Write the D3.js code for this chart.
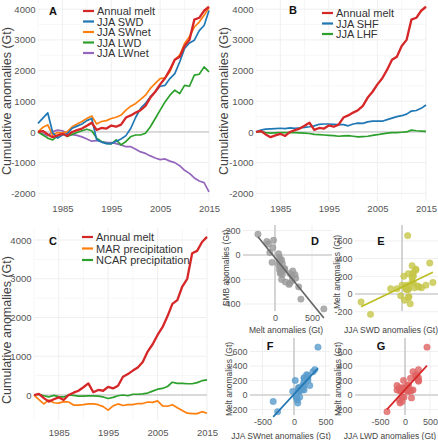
<!DOCTYPE html>
<html><head><meta charset="utf-8">
<script src="https://cdn.jsdelivr.net/npm/d3@7"></script>
<style>body{margin:0;background:#fff;} svg{display:block;font-family:"Liberation Sans",Arial,sans-serif;}</style>
</head><body><svg id="c" width="438" height="440"></svg>
<script>
// ---------------- DATA ----------------
const years = [1980,1981,1982,1983,1984,1985,1986,1987,1988,1989,1990,1991,1992,1993,1994,1995,1996,1997,1998,1999,2000,2001,2002,2003,2004,2005,2006,2007,2008,2009,2010,2011,2012,2013,2014,2015];
const xTickYears = [1985,1995,2005,2015];
const yTicksAB = [-2000,-1000,0,1000,2000,3000,4000];
const yTicksC = [0,1000,2000,3000,4000];

// cumulative anomalies (Gt)
const annualMelt = [0,30,-80,-170,-110,-60,-130,0,60,110,200,300,70,130,110,210,170,240,470,540,630,710,850,1120,1310,1550,1750,2030,2350,2450,2800,3000,3660,3720,3950,4080];
const jjaSWD   = [280,450,620,-20,-200,-100,-60,120,190,260,370,440,-250,-330,-380,-380,-300,-230,-120,120,480,770,930,1150,1310,1490,1520,1740,1900,2280,2720,2900,2990,3300,3470,3960];
const jjaSWnet = [0,150,230,-100,-20,-40,10,170,260,340,440,520,260,340,370,440,480,550,710,840,930,1060,1200,1420,1580,1740,1760,1960,2360,2500,2880,3100,3420,3580,3800,4050];
const jjaLWD   = [0,-100,-200,-260,-130,-40,-150,-80,-20,40,90,40,-200,-310,-370,-390,-260,-420,-310,-150,-100,-100,-40,170,440,710,980,1200,1360,1250,1520,1490,1850,1880,2120,1960];
const jjaLWnet = [0,-60,-120,10,60,40,-60,-90,-110,-160,-230,-300,-280,-320,-340,-350,-380,-420,-480,-480,-560,-650,-700,-780,-850,-900,-880,-950,-1000,-1100,-1250,-1350,-1500,-1600,-1650,-1950];
const jjaSHF   = [0,60,90,100,110,120,110,130,120,130,150,170,200,250,260,260,250,240,240,200,260,290,280,330,350,350,350,400,450,500,530,580,680,700,770,880];
const jjaLHF   = [0,15,-20,-40,-30,-20,-20,-20,-20,-30,-40,-50,-80,-90,-100,-110,-120,-140,-130,-120,-140,-160,-150,-140,-110,-90,-60,-40,-20,-20,-10,0,60,40,30,20];
const marPrecip  = [0,-120,-230,-130,-200,-210,-170,-180,-260,-260,-250,-230,-230,-250,-300,-390,-280,-230,-270,-250,-250,-220,-220,-180,-190,-150,-280,-290,-250,-330,-400,-470,-480,-480,-430,-470];
const ncarPrecip = [0,20,-20,-50,-10,-40,-50,0,-10,-30,-30,-20,-20,-30,-50,-90,-60,-20,0,-20,20,20,30,50,100,150,170,220,330,300,300,290,290,320,370,390];

// yearly anomalies (Gt) for scatter panels
const meltAnom  = [-30,60,-110,-90,60,50,-70,130,60,50,90,100,-230,60,-20,100,-40,70,230,70,90,80,140,270,190,240,200,280,320,100,350,200,660,70,230,130];
const smbAnom   = [60,-60,110,90,-20,-80,20,-110,-50,10,-40,-130,170,-120,120,-70,-60,-150,-170,-100,-200,-140,-220,-160,-240,-130,-230,-190,-260,-160,-360,-150,-440,-40,-210,-120];
const swdAnom   = [110,100,130,-650,-180,100,40,180,70,70,110,70,-500,-80,-20,0,100,50,100,200,250,270,160,220,160,180,30,220,160,380,440,180,90,310,170,490];
const swnetAnom = [90,80,60,-330,80,-20,50,160,90,80,100,80,-260,80,30,70,40,70,160,130,90,130,140,220,160,160,20,200,300,140,330,220,380,160,220,250];
const lwdAnom   = [-20,-80,-100,-60,130,90,-110,70,60,60,50,-50,-360,-110,-60,-20,130,-160,110,160,50,0,60,210,270,270,270,220,160,-110,270,-30,440,30,240,-160];

// ---------------- DRAW ----------------
const svg = d3.select("#c");
const COL = {melt:"#d62728", blue:"#1f77b4", orange:"#ff7f0e", green:"#2ca02c", purple:"#9467bd", olive:"#bcbd22"};
const GRID = "#efefef", GRIDMINOR = "#f7f7f7", ZERO = "#bdbdbd", TICKTXT = "#555", TITLETXT = "#444";
const fmt = d => String(d);

function linePanel(cfg) {
  const g = svg.append("g");
  const x = d3.scaleLinear().domain([1980, 2015]).range(cfg.xr);
  const y = d3.scaleLinear().domain(cfg.yd).range(cfg.yr);
  const [x0, x1] = cfg.xr, [yb, yt] = cfg.yr;
  [1980,1990,2000,2010].forEach(v => g.append("line").attr("x1", x(v)).attr("x2", x(v)).attr("y1", yt).attr("y2", yb).attr("stroke", GRIDMINOR));
  cfg.yTicks.slice(0, -1).forEach((v, i) => { const m = (v + cfg.yTicks[i+1]) / 2; g.append("line").attr("x1", x0).attr("x2", x1).attr("y1", y(m)).attr("y2", y(m)).attr("stroke", GRIDMINOR); });
  xTickYears.forEach(v => g.append("line").attr("x1", x(v)).attr("x2", x(v)).attr("y1", yt).attr("y2", yb).attr("stroke", GRID));
  cfg.yTicks.forEach(v => g.append("line").attr("x1", x0).attr("x2", x1).attr("y1", y(v)).attr("y2", y(v)).attr("stroke", GRID));
  g.append("line").attr("x1", x0).attr("x2", x1).attr("y1", y(0)).attr("y2", y(0)).attr("stroke", ZERO).attr("stroke-width", 1);
  const ax = g.append("g").attr("transform", `translate(0,${yb})`).call(d3.axisBottom(x).tickValues(xTickYears).tickSize(0).tickPadding(cfg.xPad).tickFormat(fmt));
  const ay = g.append("g").attr("transform", `translate(${x0},0)`).call(d3.axisLeft(y).tickValues(cfg.yTicks).tickSize(0).tickPadding(2.5).tickFormat(fmt));
  [ax, ay].forEach(a => { a.select(".domain").remove(); a.selectAll("text").attr("fill", TICKTXT).attr("font-size", 9.5).attr("font-family", "Liberation Sans, Arial, sans-serif"); });
  const line = d3.line().x((d, i) => x(years[i])).y(d => y(d));
  cfg.series.slice().reverse().forEach(s => g.append("path").datum(s.values).attr("d", line).attr("fill", "none").attr("stroke", s.color).attr("stroke-width", s.w).attr("stroke-linejoin", "round"));
  g.append("text").attr("transform", `translate(${cfg.titleX},${cfg.titleY}) rotate(-90)`).attr("text-anchor", "middle").attr("font-size", 12.5).attr("fill", TITLETXT).text("Cumulative anomalies (Gt)");
  g.append("text").attr("x", cfg.letter[0]).attr("y", cfg.letter[1]).attr("font-size", 11).attr("font-weight", "bold").attr("fill", "#111").text(cfg.letter[2]);
  cfg.series.forEach((s, i) => {
    const ly = cfg.leg[1] + i * cfg.leg[2];
    g.append("line").attr("x1", cfg.leg[0]).attr("x2", cfg.leg[0] + 11).attr("y1", ly).attr("y2", ly).attr("stroke", s.color).attr("stroke-width", 2.2);
    g.append("text").attr("x", cfg.leg[0] + 14).attr("y", ly + 4).attr("font-size", 11).attr("fill", "#333").text(s.name);
  });
}

linePanel({
  xr: [38, 209], yd: [-2250, 4300], yr: [201, 0], yTicks: yTicksAB, xPad: 4,
  titleX: 11, titleY: 101, letter: [49, 15, "A"], leg: [83, 11, 10.5],
  series: [
    {name: "Annual melt", values: annualMelt, color: COL.melt, w: 2.3},
    {name: "JJA SWD", values: jjaSWD, color: COL.blue, w: 1.7},
    {name: "JJA SWnet", values: jjaSWnet, color: COL.orange, w: 1.7},
    {name: "JJA LWD", values: jjaLWD, color: COL.green, w: 1.7},
    {name: "JJA LWnet", values: jjaLWnet, color: COL.purple, w: 1.7}
  ]
});
linePanel({
  xr: [256, 426], yd: [-2250, 4300], yr: [201, 0], yTicks: yTicksAB, xPad: 4,
  titleX: 227.5, titleY: 101, letter: [289, 14, "B"], leg: [322, 13, 10.5],
  series: [
    {name: "Annual melt", values: annualMelt, color: COL.melt, w: 2.3},
    {name: "JJA SHF", values: jjaSHF, color: COL.blue, w: 1.7},
    {name: "JJA LHF", values: jjaLHF, color: COL.green, w: 1.7}
  ]
});
linePanel({
  xr: [34, 207], yd: [-645, 4310], yr: [420, 228], yTicks: yTicksC, xPad: 9,
  titleX: 10.5, titleY: 330, letter: [49, 245, "C"], leg: [82, 237, 11.5],
  series: [
    {name: "Annual melt", values: annualMelt, color: COL.melt, w: 2.3},
    {name: "MAR precipitation", values: marPrecip, color: COL.orange, w: 1.7},
    {name: "NCAR precipitation", values: ncarPrecip, color: COL.green, w: 1.7}
  ]
});

function scatterPanel(cfg) {
  const g = svg.append("g");
  const x = d3.scaleLinear().domain(cfg.xd).range(cfg.xr);
  const y = d3.scaleLinear().domain(cfg.yd).range(cfg.yr);
  const [x0, x1] = cfg.xr, [yb, yt] = cfg.yr;
  cfg.xGrid.forEach(v => g.append("line").attr("x1", x(v)).attr("x2", x(v)).attr("y1", yt).attr("y2", yb).attr("stroke", GRID));
  cfg.yTicks.forEach(v => g.append("line").attr("x1", x0).attr("x2", x1).attr("y1", y(v)).attr("y2", y(v)).attr("stroke", GRID));
  g.append("line").attr("x1", x0).attr("x2", x1).attr("y1", y(0)).attr("y2", y(0)).attr("stroke", ZERO).attr("stroke-width", 1.2);
  g.append("line").attr("x1", x(0)).attr("x2", x(0)).attr("y1", yt).attr("y2", yb).attr("stroke", ZERO).attr("stroke-width", 1.2);
  const xs = cfg.xv, ys = cfg.yv;
  g.selectAll("circle.p").data(xs).join("circle").attr("cx", d => x(d)).attr("cy", (d, i) => y(ys[i])).attr("r", 3.2)
    .attr("fill", cfg.pt).attr("fill-opacity", 0.8).attr("stroke", cfg.pt).attr("stroke-opacity", 0.9).attr("stroke-width", 0.5);
  const mx = d3.mean(xs), my = d3.mean(ys);
  const b = d3.sum(xs, (d, i) => (d - mx) * (ys[i] - my)) / d3.sum(xs, d => (d - mx) ** 2);
  const a = my - b * mx;
  const [lo, hi] = d3.extent(xs);
  g.append("line").attr("x1", x(lo)).attr("x2", x(hi)).attr("y1", y(a + b * lo)).attr("y2", y(a + b * hi)).attr("stroke", cfg.lc).attr("stroke-width", 1.7);
  if (cfg.xTicks.length) {
    const ax = g.append("g").attr("transform", `translate(0,${yb})`).call(d3.axisBottom(x).tickValues(cfg.xTicks).tickSize(0).tickPadding(4).tickFormat(fmt));
    ax.select(".domain").remove(); ax.selectAll("text").attr("fill", TICKTXT).attr("font-size", 9);
  }
  const ay = g.append("g").attr("transform", `translate(${x0},0)`).call(d3.axisLeft(y).tickValues(cfg.yTicks).tickSize(0).tickPadding(2.5).tickFormat(fmt));
  ay.select(".domain").remove(); ay.selectAll("text").attr("fill", TICKTXT).attr("font-size", 9);
  g.append("text").attr("x", cfg.xt[0]).attr("y", cfg.xt[1]).attr("text-anchor", "middle").attr("font-size", 8.5).attr("fill", TITLETXT).text(cfg.xTitle);
  g.append("text").attr("transform", `translate(${cfg.yt[0]},${cfg.yt[1]}) rotate(-90)`).attr("text-anchor", "middle").attr("font-size", 8.5).attr("fill", TITLETXT).text(cfg.yTitle);
  g.append("text").attr("x", cfg.letter[0]).attr("y", cfg.letter[1]).attr("font-size", 11).attr("font-weight", "bold").attr("fill", "#111").attr("text-anchor", "middle").text(cfg.letter[2]);
}

scatterPanel({
  xv: meltAnom, yv: smbAnom, xd: [-432, 770], xr: [243, 332], yd: [-457, 245], yr: [311, 225],
  xTicks: [0, 500], xGrid: [0, 500], yTicks: [-400, -200, 0, 200], pt: "#9a9a9a", lc: "#666",
  xTitle: "Melt anomalies (Gt)", xt: [286, 333], yTitle: "SMB anomalies (Gt)", yt: [229, 268], letter: [315, 245, "D"]
});
scatterPanel({
  xv: swdAnom, yv: meltAnom, xd: [-746, 571], xr: [355, 438], yd: [-192, 780], yr: [311, 225],
  xTicks: [], xGrid: [0], yTicks: [-200, 0, 200, 400, 600], pt: "#c6c648", lc: COL.olive,
  xTitle: "JJA SWD anomalies (Gt)", xt: [391, 333], yTitle: "Melt anomalies (Gt)", yt: [340, 272], letter: [381, 245, "E"]
});
scatterPanel({
  xv: swnetAnom, yv: meltAnom, xd: [-698, 571], xr: [250, 330], yd: [-276, 786], yr: [415, 338],
  xTicks: [-500, 0, 500], xGrid: [-500, 0, 500], yTicks: [-200, 0, 200, 400, 600], pt: "#5a9ccc", lc: COL.blue,
  xTitle: "JJA SWnet anomalies (Gt)", xt: [281, 439], yTitle: "Melt anomalies (Gt)", yt: [232, 379], letter: [270, 350, "F"]
});
scatterPanel({
  xv: lwdAnom, yv: meltAnom, xd: [-1000, 660], xr: [355, 438], yd: [-276, 786], yr: [415, 338],
  xTicks: [-500, 0, 500], xGrid: [-500, 0, 500], yTicks: [-200, 0, 200, 400, 600], pt: "#e06464", lc: COL.melt,
  xTitle: "JJA LWD anomalies (Gt)", xt: [390, 439], yTitle: "Melt anomalies (Gt)", yt: [341, 379], letter: [381, 350, "G"]
});
</script>
</body></html>
